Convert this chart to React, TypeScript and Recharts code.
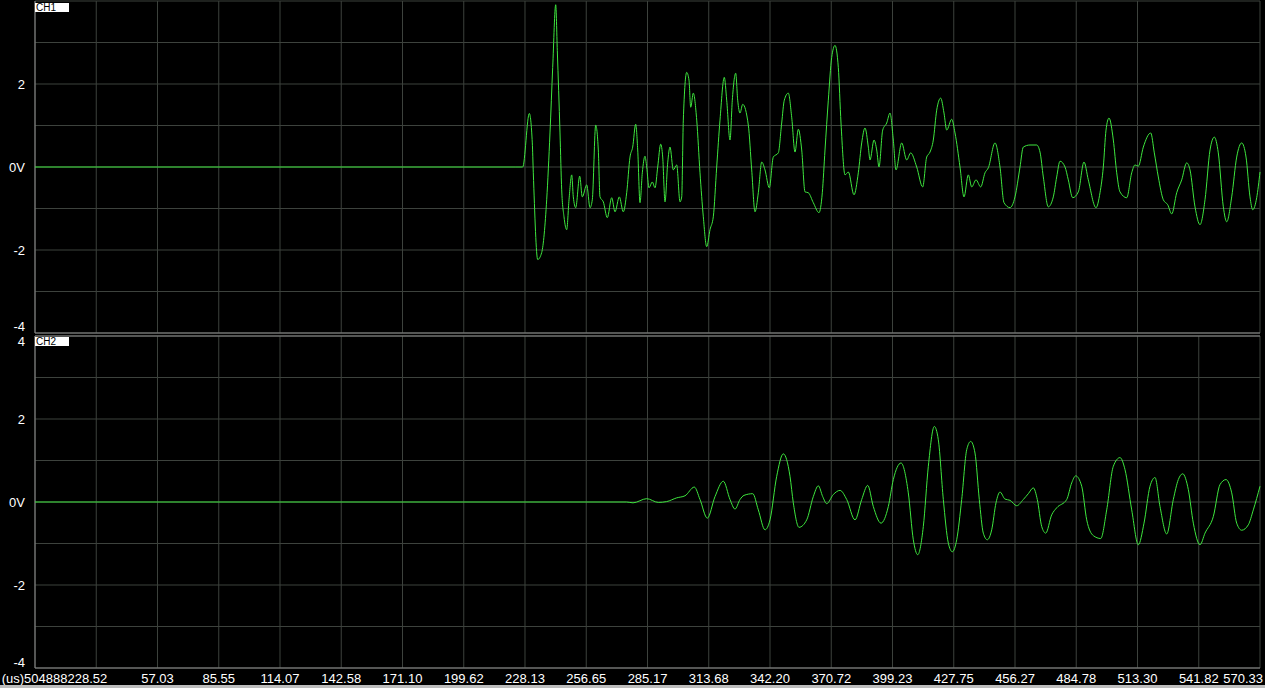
import { LineChart, Line, XAxis, YAxis, CartesianGrid, ReferenceLine } from 'recharts'

// time axis labels in microseconds (one per vertical grid line)
const xTickLabels = [
  '0', '28.52', '57.03', '85.55', '114.07', '142.58', '171.10', '199.62', '228.13', '256.65',
  '285.17', '313.68', '342.20', '370.72', '399.23', '427.75', '456.27', '484.78', '513.30',
  '541.82', '570.33',
]
const xTicks = xTickLabels.map(Number)
const firstLabel = '(us)504888228.52'

const yTicks = [-4, -3, -2, -1, 0, 1, 2, 3, 4]
const yTickLabels: Record<string, string> = { '4': '4', '2': '2', '0': '0V', '-2': '-2', '-4': '-4' }

// [time us, volts]
const ch1Trace: [number, number][] = [
  [0, 0], [223.94, 0], [227.06, 0], [230.14, 1.29], [231.53, 0.58], [232.0, -0.14], [234.05, -2.23],
  [235.91, -2.06], [238.23, -0.79], [239.77, 0.82], [241.03, 2.4], [242.43, 3.91], [243.17, 2.81],
  [244.43, 0.82], [245.22, -0.55], [246.29, -1.2], [247.55, -1.51], [248.62, -0.79], [249.88, -0.19],
  [250.62, -0.72], [251.74, -0.98], [253.6, -0.22], [254.81, -0.72], [256.86, -0.43], [258.4, -0.98],
  [259.47, -0.79], [261.05, 1.01], [262.26, 0.41], [263.05, -0.72], [264.59, -0.84], [266.45, -1.22],
  [268.5, -0.74], [270.04, -1.08], [272.04, -0.72], [273.9, -1.08], [275.48, -0.62], [277.02, 0.24],
  [278.27, 0.48], [279.67, 1.03], [280.61, 0.41], [281.68, -0.86], [282.75, -0.14], [284.0, 0.26],
  [284.79, 0], [285.87, -0.5], [287.4, -0.36], [288.66, -0.5], [289.92, 0], [291.31, 0.55],
  [292.24, 0.24], [293.32, -0.84], [294.57, 0.1], [295.64, 0.48], [297.18, -0.07], [298.76, 0.05],
  [300.3, -0.84], [301.09, -0.72], [301.84, 1.13], [303.42, 2.28], [304.49, 2.09], [305.28, 1.44],
  [306.49, 1.78], [308.08, 1.13], [309.61, -0.14], [311.15, -1.2], [312.73, -1.92], [314.27, -1.51],
  [315.8, -1.2], [317.38, 0], [318.92, 1.13], [320.92, 2.16], [322.04, 1.61], [323.58, 0.65],
  [324.65, 1.61], [326.23, 2.26], [327.16, 1.61], [328.23, 1.3], [329.49, 1.51], [332.1, 1.01],
  [333.68, -0.07], [335.22, -1.08], [336.76, -0.62], [338.34, 0.12], [339.87, -0.07], [341.87, -0.5],
  [343.74, 0.24], [346.06, 0.34], [347.64, 1.06], [348.86, 1.61], [350.72, 1.78], [352.3, 1.2],
  [353.84, 0.36], [355.38, 0.91], [356.96, 0.41], [358.5, -0.6], [360.03, -0.62], [362.36, -0.86],
  [365.01, -1.1], [366.55, -0.62], [367.81, 0.41], [369.35, 1.61], [370.92, 2.64], [372.46, 2.93],
  [374.0, 2.4], [375.26, 1.06], [377.12, -0.19], [378.66, -0.12], [381.31, -0.67], [383.31, -0.14],
  [384.89, 0.58], [386.43, 0.94], [387.97, 0.48], [388.76, 0.17], [390.62, 0.65], [391.88, 0.41],
  [392.95, 0], [394.67, 0.89], [396.53, 1.06], [398.07, 1.3], [399.61, 0.65], [400.86, -0.07],
  [403.51, 0.58], [405.84, 0.17], [407.7, 0.34], [410.5, 0], [413.29, -0.48], [415.15, 0.24],
  [416.69, 0.36], [418.23, 0.65], [419.81, 1.37], [421.67, 1.66], [423.21, 1.3], [424.47, 0.89],
  [426.8, 1.15], [428.33, 0.82], [430.66, 0], [432.52, -0.72], [434.53, -0.19], [436.11, -0.48],
  [438.11, -0.31], [440.3, -0.48], [442.3, -0.14], [443.84, -0.02], [446.96, 0.58], [449.28, 0],
  [451.15, -0.86], [453.94, -0.98], [456.27, -0.72], [458.6, 0], [460.13, 0.48], [463.25, 0.53],
  [466.37, 0.53], [467.91, 0.36], [469.44, -0.24], [471.77, -0.96], [474.1, -0.72], [475.68, -0.24],
  [477.22, 0.14], [479.55, 0], [481.08, -0.31], [483.13, -0.74], [485.74, -0.6], [488.39, 0.12],
  [490.39, -0.31], [493.98, -0.98], [495.84, -0.62], [497.38, 0], [498.64, 0.89], [500.03, 1.18],
  [502.04, 0.65], [503.62, -0.14], [505.15, -0.6], [508.27, -0.74], [510.6, -0.14], [512.14, 0.05],
  [513.68, 0.02], [516.01, 0.48], [519.45, 0.82], [521.13, 0.34], [522.99, -0.24], [525.32, -0.79],
  [527.37, -0.91], [529.23, -1.13], [531.55, -0.62], [533.88, -0.31], [536.21, 0.1], [537.74, -0.07],
  [540.07, -0.96], [542.4, -1.39], [544.73, -0.79], [547.06, 0.41], [549.06, 0.72], [550.92, 0.34],
  [553.25, -0.96], [554.83, -1.32], [557.16, -0.72], [559.48, 0.24], [561.81, 0.58], [563.82, 0.24],
  [565.68, -0.72], [566.93, -1.03], [568.79, -0.74], [570.33, -0.12],
]

const ch2Trace: [number, number][] = [
  [0, 0], [275.48, 0], [278.42, -0.02], [284.79, 0.08], [290.2, -0.01], [294.1, 0.01], [298.76, 0.1],
  [302.63, 0.15], [306.96, 0.36], [309.61, 0.06], [313.01, -0.39], [316.59, 0.13], [320.46, 0.5],
  [323.58, 0.06], [325.91, -0.17], [328.23, 0.06], [330.1, 0.16], [334.15, 0.2], [336.76, -0.19],
  [339.87, -0.67], [342.2, -0.43], [345.32, 0.62], [348.39, 1.16], [351.51, 0.62], [353.05, -0.02],
  [355.7, -0.61], [359.29, -0.43], [362.36, 0.13], [364.69, 0.39], [366.74, 0.13], [368.6, -0.04],
  [371.67, 0.18], [374.79, 0.28], [377.91, 0.06], [381.78, -0.43], [384.89, 0.06], [387.69, 0.4],
  [390.3, -0.11], [393.88, -0.51], [397.28, -0.11], [399.61, 0.54], [403.19, 0.94], [406.59, 0.22],
  [408.92, -0.91], [410.97, -1.27], [413.58, -0.59], [415.91, 0.86], [418.7, 1.82], [420.56, 1.5],
  [422.89, 0.06], [425.22, -0.99], [427.08, -1.2], [429.12, -0.91], [431.45, 0.06], [433.78, 1.26],
  [435.64, 1.46], [437.64, 1.18], [439.64, 0.06], [441.51, -0.75], [443.37, -0.91], [445.42, -0.67],
  [447.42, -0.02], [449.28, 0.24], [451.61, 0.07], [453.94, 0.04], [457.06, -0.09], [460.13, 0.06],
  [462.46, 0.2], [464.79, 0.34], [466.65, 0.06], [468.7, -0.59], [470.56, -0.75], [473.35, -0.31],
  [475.68, -0.14], [480.34, 0.06], [482.66, 0.46], [484.53, 0.63], [487.32, 0.38], [489.65, -0.43],
  [492.72, -0.81], [496.17, -0.88], [498.96, -0.19], [502.04, 0.86], [505.15, 1.07], [507.48, 0.78],
  [510.6, -0.19], [513.68, -1.03], [516.33, -0.51], [519.12, 0.38], [521.45, 0.59], [523.78, -0.11],
  [526.9, -0.77], [529.97, 0.06], [532.3, 0.54], [534.35, 0.68], [536.96, 0.3], [539.29, -0.51],
  [542.4, -1.03], [544.73, -0.75], [548.6, -0.35], [551.71, 0.42], [554.51, 0.54], [557.16, 0.22],
  [559.48, -0.51], [561.81, -0.68], [564.89, -0.55], [567.22, -0.19], [570.33, 0.38],
]

const ch1Data = ch1Trace.map(([t, v]) => ({ t, v }))
const ch2Data = ch2Trace.map(([t, v]) => ({ t, v }))

const TRACE = '#3ee63e'
const GRID = '#3d423d'
const BORDER = '#8c8c8c'
const FONT = "'Liberation Sans Narrow', 'Arial Narrow', 'Liberation Sans', Arial, sans-serif"

function VoltTick(props: any) {
  const { y, payload, top } = props
  const key = String(payload.value)
  const label = yTickLabels[key]
  if (!label) return null
  if (top && payload.value === 4) return null
  let dy = 4.5
  if (payload.value === -4) dy = top ? -2 : -1
  if (payload.value === 4) dy = 10
  return (
    <text x={25} y={y + dy} textAnchor="end" fill="#fff" fontSize={13} fontFamily={FONT}>
      {label}
    </text>
  )
}

// bottom chart svg starts at page y=335, so its plot bottom sits at svg y=333
const TIME_BASELINE = 348

function TimeTick(props: any) {
  const { x, payload } = props
  const idx = xTicks.indexOf(payload.value)
  if (idx <= 0) return null
  let text = xTickLabels[idx]
  let anchor: 'middle' | 'end' = 'middle'
  let tx = x
  if (idx === 1) {
    text = firstLabel
    anchor = 'end'
    tx = x + 11
  } else if (idx === xTicks.length - 1) {
    anchor = 'end'
    tx = x + 3
  }
  return (
    <text x={tx} y={TIME_BASELINE} textAnchor={anchor} fill="#fff" fontSize={13} fontFamily={FONT}>
      {text}
    </text>
  )
}

const chLabel = (top: number): React.CSSProperties => ({
  position: 'absolute',
  left: 35,
  top,
  width: 34,
  height: 9,
  background: '#fff',
  color: '#000',
  fontFamily: FONT,
  fontSize: 10,
  lineHeight: '9px',
  paddingLeft: 1,
  boxSizing: 'border-box',
})

export default function App() {
  return (
    <div style={{ position: 'fixed', left: 0, top: 0, width: 1265, height: 688, background: '#000', overflow: 'hidden' }}>
      <div style={{ position: 'absolute', left: 0, top: 0 }}>
        <LineChart width={1265} height={334} data={ch1Data} margin={{ top: 1, right: 5, bottom: 1, left: 0 }}>
          <CartesianGrid stroke={GRID} />
          <XAxis dataKey="t" type="number" domain={[0, 570.33]} ticks={xTicks} hide />
          <YAxis
            type="number"
            domain={[-4, 4]}
            ticks={yTicks}
            width={35}
            axisLine={false}
            tickLine={false}
            interval={0}
            tick={<VoltTick top />}
          />
          <ReferenceLine x={0} stroke={BORDER} />
          <ReferenceLine y={-4} stroke={BORDER} />
          <Line dataKey="v" type="monotone" stroke={TRACE} strokeWidth={1} dot={false} isAnimationActive={false} />
        </LineChart>
      </div>
      <div style={{ position: 'absolute', left: 0, top: 335 }}>
        <LineChart width={1265} height={353} data={ch2Data} margin={{ top: 1, right: 5, bottom: 0, left: 0 }}>
          <CartesianGrid stroke={GRID} />
          <XAxis
            dataKey="t"
            type="number"
            domain={[0, 570.33]}
            ticks={xTicks}
            interval={0}
            height={20}
            axisLine={false}
            tickLine={false}
            tickSize={0}
            tick={<TimeTick />}
          />
          <YAxis
            type="number"
            domain={[-4, 4]}
            ticks={yTicks}
            width={35}
            axisLine={false}
            tickLine={false}
            interval={0}
            tick={<VoltTick />}
          />
          <ReferenceLine x={0} stroke={BORDER} />
          <ReferenceLine y={4} stroke={BORDER} />
          <ReferenceLine y={-4} stroke={BORDER} />
          <Line dataKey="v" type="monotone" stroke={TRACE} strokeWidth={1} dot={false} isAnimationActive={false} />
        </LineChart>
      </div>
      <div style={chLabel(3)}>CH1</div>
      <div style={chLabel(337)}>CH2</div>
      <div style={{ position: 'absolute', left: 0, top: 685, width: 1265, height: 3, background: '#bdbdbd' }} />
    </div>
  )
}
